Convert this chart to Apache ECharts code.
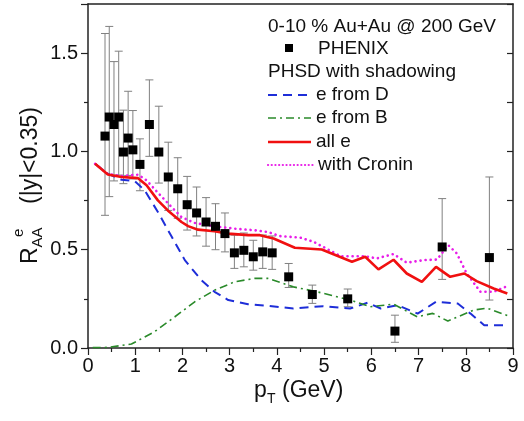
<!DOCTYPE html>
<html><head><meta charset="utf-8">
<script src="https://cdn.jsdelivr.net/npm/echarts@6/dist/echarts.min.js"></script>
<style>html,body{margin:0;padding:0;background:#fff}#c{width:524px;height:421px}</style>
</head><body><div id="c"></div>
<script>
const FONT = '"Liberation Sans", Arial, Helvetica, sans-serif';

// PHENIX data points
const phenixPt  = [0.36,0.45,0.55,0.65,0.75,0.85,0.95,1.1,1.3,1.5,1.7,1.9,2.1,2.3,2.5,2.7,2.9,3.1,3.3,3.5,3.7,3.9,4.25,4.75,5.5,6.5,7.5,8.5];
const phenixVal = [1.078,1.175,1.137,1.175,0.997,1.068,1.008,0.934,1.137,0.997,0.87,0.81,0.729,0.687,0.641,0.619,0.582,0.484,0.497,0.464,0.489,0.484,0.362,0.272,0.25,0.086,0.514,0.46];
const phenixHi  = [1.60,1.636,1.457,1.51,1.21,1.306,1.208,1.064,1.364,1.23,1.047,0.968,0.873,0.819,0.765,0.734,0.687,0.574,0.585,0.548,0.575,0.57,0.43,0.32,0.30,0.167,0.76,0.87];
const phenixLo  = [0.675,0.77,0.85,0.88,0.836,0.878,0.86,0.80,0.975,0.839,0.70,0.66,0.60,0.57,0.518,0.50,0.489,0.405,0.413,0.396,0.405,0.40,0.308,0.227,0.21,0.029,0.349,0.244];

// PHSD curves
const eDPt  = [0.15,0.42,0.71,0.99,1.20,1.48,1.77,2.05,2.40,2.68,2.97,3.39,3.81,4.35,4.98,5.55,5.92,6.20,6.55,6.98,7.37,7.83,8.10,8.39,8.88];
const eDVal = [0.937,0.886,0.856,0.849,0.802,0.692,0.567,0.447,0.345,0.286,0.244,0.223,0.215,0.201,0.213,0.201,0.23,0.201,0.218,0.175,0.235,0.226,0.175,0.116,0.115];

const eBPt  = [0.1,0.42,0.92,1.41,1.84,2.26,2.68,3.11,3.53,3.81,4.35,4.85,5.55,5.98,6.47,6.97,7.3,7.62,8.17,8.45,8.9];
const eBVal = [0.002,0.003,0.02,0.083,0.159,0.235,0.294,0.337,0.354,0.354,0.311,0.286,0.244,0.21,0.223,0.159,0.176,0.137,0.193,0.203,0.163];

const allPt  = [0.15,0.42,0.71,1.06,1.24,1.48,1.69,1.98,2.12,2.33,2.68,2.97,3.39,3.64,3.93,4.38,4.95,5.59,5.87,6.15,6.47,6.75,7.07,7.37,7.67,7.97,8.23,8.59,8.88];
const allVal = [0.937,0.883,0.87,0.864,0.828,0.751,0.70,0.641,0.62,0.602,0.594,0.582,0.574,0.574,0.557,0.51,0.501,0.439,0.464,0.40,0.449,0.379,0.336,0.413,0.362,0.379,0.34,0.303,0.277];

const croPt  = [0.15,0.42,0.71,1.06,1.24,1.48,1.77,1.98,2.26,2.68,3.11,3.53,3.81,4.07,4.49,4.78,5.35,5.85,6.12,6.47,6.75,7.11,7.39,7.63,7.81,8.02,8.31,8.59,8.84];
const croVal = [0.937,0.885,0.875,0.882,0.853,0.79,0.717,0.666,0.636,0.619,0.607,0.599,0.59,0.569,0.562,0.54,0.467,0.467,0.456,0.478,0.434,0.447,0.45,0.523,0.481,0.379,0.286,0.286,0.311];

const xTicks = [0,1,2,3,4,5,6,7,8,9];
const yTicks = [0.0,0.5,1.0,1.5];

const zip = (a,b) => a.map((v,i)=>[v,b[i]]);
const AX = '#222';

const chart = echarts.init(document.getElementById('c'));
const yLab = v => yTicks.some(t => Math.abs(t - v) < 1e-6) ? v.toFixed(1) : '';

const option = {
  animation: false,
  backgroundColor: '#fff',
  grid: {left: 88, right: 11, top: 4, bottom: 73},
  xAxis: [{
    type: 'value', min: 0, max: 9, interval: 1, position: 'bottom',
    axisLine: {show: true, onZero: false, lineStyle: {color: AX, width: 1.5}},
    axisTick: {show: true, inside: false, length: 7, lineStyle: {color: AX, width: 1.2}},
    minorTick: {show: true, splitNumber: 2, length: 4, lineStyle: {color: AX, width: 1.2}},
    splitLine: {show: false},
    axisLabel: {fontSize: 20, fontFamily: FONT, color: '#111', margin: 8,
      formatter: v => xTicks.includes(v) ? String(v) : ''}
  }, {
    type: 'value', min: 0, max: 9, interval: 1, position: 'top',
    axisLine: {show: true, onZero: false, lineStyle: {color: AX, width: 1.5}},
    axisTick: {show: false}, axisLabel: {show: false}, splitLine: {show: false}
  }],
  yAxis: [{
    type: 'value', min: 0, max: 1.75, interval: 0.5, position: 'left',
    axisLine: {show: true, onZero: false, lineStyle: {color: AX, width: 1.5}},
    axisTick: {show: true, inside: false, length: 7, lineStyle: {color: AX, width: 1.2}},
    minorTick: {show: true, splitNumber: 2, length: 4, lineStyle: {color: AX, width: 1.2}},
    splitLine: {show: false},
    axisLabel: {fontSize: 20, fontFamily: FONT, color: '#111', margin: 10, formatter: yLab}
  }, {
    type: 'value', min: 0, max: 1.75, interval: 0.25, position: 'right',
    axisLine: {show: true, onZero: false, lineStyle: {color: AX, width: 1.5}},
    axisTick: {show: true, inside: true, length: 6, lineStyle: {color: AX, width: 1.2}},
    axisLabel: {show: false}, splitLine: {show: false}
  }],
  series: [
    {
      type: 'custom', name: 'PHENIX err', z: 2,
      encode: {x: 0, y: [1, 2]},
      data: phenixPt.map((x,i)=>[x, phenixLo[i], phenixHi[i]]),
      renderItem: (params, api) => {
        const x = api.value(0);
        const a = api.coord([x, api.value(1)]);
        const b = api.coord([x, api.value(2)]);
        const w = 4;
        const st = {stroke: '#808080', lineWidth: 1};
        return {type: 'group', children: [
          {type: 'line', shape: {x1: a[0], y1: a[1], x2: b[0], y2: b[1]}, style: st},
          {type: 'line', shape: {x1: a[0]-w, y1: a[1], x2: a[0]+w, y2: a[1]}, style: st},
          {type: 'line', shape: {x1: b[0]-w, y1: b[1], x2: b[0]+w, y2: b[1]}, style: st}
        ]};
      }
    },
    {type: 'line', name: 'e from D', data: zip(eDPt, eDVal), showSymbol: false, z: 3,
     lineStyle: {color: '#1e2ed8', width: 2, type: [9, 6]}},
    {type: 'line', name: 'e from B', data: zip(eBPt, eBVal), showSymbol: false, z: 3,
     lineStyle: {color: '#2a8a2a', width: 1.6, type: [8, 4, 2, 4]}},
    {type: 'line', name: 'with Cronin', data: zip(croPt, croVal), showSymbol: false, z: 3,
     lineStyle: {color: '#e81ee8', width: 2.6, type: [0.1, 5], cap: 'round'}},
    {type: 'line', name: 'all e', data: zip(allPt, allVal), showSymbol: false, z: 4,
     lineStyle: {color: '#f01010', width: 2.6}},
    {type: 'scatter', name: 'PHENIX', data: zip(phenixPt, phenixVal), z: 5,
     symbol: 'rect', symbolSize: 9, itemStyle: {color: '#000', opacity: 1}}
  ],
  graphic: [
    // y-axis title
    {type: 'group', x: 31, y: 264, rotation: Math.PI / 2, children: [
      {type: 'text', style: {text: 'R', x: 0, y: 0, fontSize: 23, fontFamily: FONT, fill: '#111', textVerticalAlign: 'middle'}},
      {type: 'text', style: {text: 'AA', x: 16.5, y: 7, fontSize: 15, fontFamily: FONT, fill: '#111', textVerticalAlign: 'middle'}},
      {type: 'text', style: {text: 'e', x: 27, y: -12, fontSize: 15, fontFamily: FONT, fill: '#111', textVerticalAlign: 'middle'}},
      {type: 'text', style: {text: '(|y|<0.35)', x: 60, y: 0, fontSize: 23, fontFamily: FONT, fill: '#111', textVerticalAlign: 'middle'}}
    ]},
    // x-axis title
    {type: 'text', style: {text: 'p', x: 254, y: 391, fontSize: 23, fontFamily: FONT, fill: '#111', textVerticalAlign: 'middle'}},
    {type: 'text', style: {text: 'T', x: 267, y: 399, fontSize: 14, fontFamily: FONT, fill: '#111', textVerticalAlign: 'middle'}},
    {type: 'text', style: {text: '(GeV)', x: 282, y: 391, fontSize: 23, fontFamily: FONT, fill: '#111', textVerticalAlign: 'middle'}},
    // legend
    {type: 'text', style: {text: '0-10 % Au+Au @ 200 GeV', x: 268, y: 27, fontSize: 19, fontFamily: FONT, fill: '#111', textVerticalAlign: 'middle'}},
    {type: 'rect', shape: {x: 285, y: 44, width: 8, height: 8}, style: {fill: '#000'}},
    {type: 'text', style: {text: 'PHENIX', x: 318, y: 49, fontSize: 19, fontFamily: FONT, fill: '#111', textVerticalAlign: 'middle'}},
    {type: 'text', style: {text: 'PHSD with shadowing', x: 268, y: 72, fontSize: 19, fontFamily: FONT, fill: '#111', textVerticalAlign: 'middle'}},
    {type: 'line', shape: {x1: 268, y1: 95, x2: 309, y2: 95}, style: {stroke: '#1e2ed8', lineWidth: 2, lineDash: [9, 6]}},
    {type: 'text', style: {text: 'e from D', x: 316, y: 95, fontSize: 19, fontFamily: FONT, fill: '#111', textVerticalAlign: 'middle'}},
    {type: 'line', shape: {x1: 268, y1: 118, x2: 311, y2: 118}, style: {stroke: '#2a8a2a', lineWidth: 1.6, lineDash: [8, 4, 2, 4]}},
    {type: 'text', style: {text: 'e from B', x: 316, y: 118, fontSize: 19, fontFamily: FONT, fill: '#111', textVerticalAlign: 'middle'}},
    {type: 'line', shape: {x1: 268, y1: 142, x2: 311, y2: 142}, style: {stroke: '#f01010', lineWidth: 2.6}},
    {type: 'text', style: {text: 'all e', x: 316, y: 142, fontSize: 19, fontFamily: FONT, fill: '#111', textVerticalAlign: 'middle'}},
    {type: 'line', shape: {x1: 268, y1: 165, x2: 313, y2: 165}, style: {stroke: '#e81ee8', lineWidth: 2.2, lineDash: [0.1, 3.6], lineCap: 'round'}},
    {type: 'text', style: {text: 'with Cronin', x: 318, y: 165, fontSize: 19, fontFamily: FONT, fill: '#111', textVerticalAlign: 'middle'}}
  ]
};
chart.setOption(option);
</script>
</body></html>
